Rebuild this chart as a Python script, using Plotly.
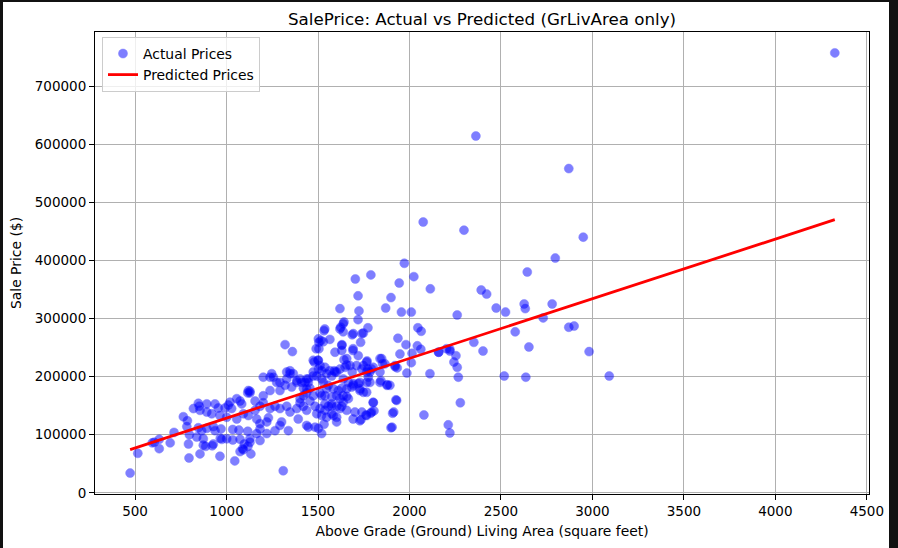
import plotly.graph_objects as go

# ---------------- data ----------------
gr_liv_area = [
    473, 515, 594, 605, 632, 632, 692, 713,
    764, 786, 783, 792, 797, 795, 837, 873, 873, 886, 855, 922, 928, 966, 974, 1001,
    964, 1045, 1074, 1088, 1117, 1128, 1097, 1092, 1133, 1034, 1074, 1116, 1068, 1034,
    970, 937, 928, 892, 864, 846,
    846, 851, 892, 937, 955, 992, 1019, 1074, 1083, 1116, 1128, 819, 855, 892, 919,
    964, 1001, 1056, 1092, 1119, 1165, 1183, 1220, 1156, 1183, 1201, 1238, 1265, 1292,
    1329, 1347, 1384, 1402, 1420, 1438, 1447, 1384, 1356, 1320, 1292, 1256, 1201, 1247,
    1329, 1365, 1402, 1292, 1238, 1201, 1156, 1292, 1301, 1338, 1265, 1220, 1183, 1165,
    1128, 1229, 1183, 1392, 1438, 1010, 1028, 1056, 1119, 1128, 1310,
    1320, 1360, 1347,
    1429, 1447, 1420, 1456, 1438, 1474, 1456, 1484, 1511, 1538, 1556, 1575, 1602, 1620,
    1638, 1666, 1657, 1684, 1720, 1729, 1748, 1766, 1775, 1784, 1740, 1711, 1675, 1648,
    1602, 1575, 1547, 1520, 1493, 1474, 1502, 1529, 1556, 1584, 1611, 1511, 1538, 1575,
    1402, 1420, 1438, 1493, 1520, 1547, 1575, 1602, 1620, 1657,
    1692, 1720, 1748, 1766, 1657, 1630, 1620, 1593, 1638, 1666, 1693, 1729, 1766, 1784,
    1740, 1766, 1702, 1692, 1729, 1802, 1793, 1839, 1638, 1602, 1575, 1538, 1520, 1547,
    1584, 1602, 1447, 1484, 1520, 1630,
    1502, 1490, 1516, 1533, 1565, 1620, 1638, 1630, 1593,
    1238, 1274, 1329, 1347, 1384, 1411, 1438, 1474, 1520, 1565, 1630, 1657, 1693, 1729,
    1766, 1802, 1839, 1866, 1893, 1930, 1905, 1914,
    1638, 1693, 1740, 1474, 1502, 1511,
    2079, 1899, 1926, 1908, 1802, 1806, 1788, 1762, 1735, 1502, 1533,
    1937, 1981, 2043, 2062, 1948, 2014, 1986, 2112, 2159, 2203, 1853, 1922, 1933, 1768,
    1772, 1691, 1631, 1687, 1733, 1748, 1642, 1657, 1687, 1500, 1479, 1505, 1538, 1589,
    1537, 1505, 1529, 1844, 1877,
    2075, 1972, 1704, 1789, 1944, 2024, 2114, 1719, 1899, 1620, 1724, 1870, 1956, 2010,
    1642, 1719, 1624, 1773, 2046, 2064,
    2298, 2950, 2797, 2644, 2392, 2422, 2261, 2474, 2525, 2627, 2633, 2780, 2731, 2871,
    2900, 2578, 2352, 2402, 2221, 2160, 2254, 2243, 2261, 2267, 2653, 2982, 2518, 2636,
    3092, 2278, 2212, 2221, 2221,
    2363, 2871, 4325,
    2010, 1793, 1848, 1839, 1879, 1921,
]

sale_price = [
    34000, 68000, 86000, 87000, 92000, 76000, 86000, 104000,
    131000, 124000, 114000, 84000, 100000, 60000, 96000, 93000, 82000, 80000, 67000, 81000, 84000, 94000, 92000, 93000,
    63000, 55000, 71000, 76000, 80000, 87000, 84000, 74000, 67000, 91000, 92000, 106000, 108000, 109000,
    110000, 107000, 114000, 111000, 107000, 112000,
    154000, 149000, 153000, 153000, 146000, 146000, 156000, 158000, 153000, 172000, 175000, 145000, 142000, 139000, 136000,
    133000, 130000, 127000, 136000, 133000, 127000, 119000, 122000, 142000, 149000, 155000, 145000, 149000, 145000,
    149000, 139000, 145000, 155000, 167000, 179000, 190000, 190000, 182000, 185000, 190000, 199000, 199000, 205000,
    208000, 205000, 196000, 176000, 176000, 167000, 158000, 116000, 122000, 107000, 107000, 102000, 110000, 102000,
    93000, 129000, 90000, 127000, 116000, 151000, 145000, 162000, 176000, 172000, 38000,
    255000, 243000, 210000,
    190000, 196000, 180000, 180000, 172000, 167000, 158000, 149000, 145000, 153000, 149000, 153000, 149000, 162000,
    167000, 162000, 179000, 182000, 188000, 176000, 173000, 190000, 199000, 208000, 213000, 219000, 219000, 216000,
    208000, 201000, 205000, 196000, 201000, 208000, 213000, 190000, 185000, 179000, 176000, 172000, 167000, 165000,
    162000, 149000, 142000, 136000, 133000, 130000, 136000, 130000, 145000, 142000,
    248000, 236000, 219000, 208000, 231000, 245000, 213000, 208000, 196000, 190000, 185000, 179000, 173000, 190000,
    139000, 133000, 139000, 127000, 124000, 156000, 139000, 190000, 156000, 167000, 149000, 142000, 167000, 179000,
    133000, 122000, 113000, 113000, 102000, 149000,
    265000, 248000, 262000, 279000, 264000, 282000, 277000, 254000, 242000,
    199000, 190000, 196000, 205000, 193000, 190000, 196000, 201000, 210000, 210000, 180000, 166000, 188000, 190000,
    225000, 216000, 231000, 222000, 185000, 159000, 113000, 139000,
    291000, 274000, 274000, 228000, 228000, 219000,
    134000, 112000, 160000, 137000, 155000, 141000, 137000, 134000, 126000, 111000, 118000,
    266000, 255000, 253000, 247000, 239000, 240000, 206000, 205000, 242000, 248000, 222000, 217000, 215000, 227000,
    213000, 245000, 255000, 272000, 259000, 275000, 229000, 220000, 208000, 228000, 225000, 248000, 216000, 210000,
    282000, 259000, 260000, 193000, 185000,
    466000, 395000, 368000, 375000, 361000, 372000, 351000, 339000, 336000, 317000, 313000, 318000, 311000, 311000,
    294000, 298000, 285000, 284000, 284000, 278000,
    452000, 440000, 404000, 380000, 349000, 342000, 306000, 318000, 311000, 325000, 317000, 325000, 301000, 285000,
    287000, 277000, 259000, 244000, 244000, 242000, 236000, 225000, 216000, 199000, 251000, 243000, 201000, 199000,
    201000, 155000, 117000, 103000, 247000,
    614000, 558000, 757000,
    224000, 213000, 231000, 208000, 186000, 219000,
]

# simple linear model SalePrice ~ GrLivArea (coefficients)
slope = 102.7
intercept = 25900.0

x_ticks = [500, 1000, 1500, 2000, 2500, 3000, 3500, 4000, 4500]
y_ticks = [0, 100000, 200000, 300000, 400000, 500000, 600000, 700000]

title_text = "SalePrice: Actual vs Predicted (GrLivArea only)"
x_label = "Above Grade (Ground) Living Area (square feet)"
y_label = "Sale Price ($)"

# ---------------- figure ----------------
x_sorted = sorted(gr_liv_area)
predicted = [intercept + slope * v for v in x_sorted]

W, H = 898, 548
L, R, T, B = 95, 29, 32, 54
FONT = "DejaVu Sans"

fig = go.Figure()
fig.add_trace(go.Scatter(
    x=gr_liv_area, y=sale_price, mode="markers", name="Actual Prices",
    marker=dict(color="rgb(0,0,255)", opacity=0.5, size=9,
                line=dict(width=1, color="rgba(0,0,255,0.5)")),
))
fig.add_trace(go.Scatter(
    x=x_sorted, y=predicted, mode="lines", name="Predicted Prices",
    line=dict(color="red", width=2.8),
))

axis_common = dict(
    showgrid=True, gridcolor="#b0b0b0", gridwidth=1,
    showline=True, linecolor="black", linewidth=1, mirror=True,
    ticks="outside", ticklen=5, tickwidth=1, tickcolor="black",
    zeroline=False, tickfont=dict(family=FONT, size=13.5, color="black"),
)

fig.update_xaxes(range=[281, 4512], tickvals=x_ticks, tickformat="d",
                 title=dict(text=x_label, font=dict(family=FONT, size=13.9, color="black"), standoff=8),
                 **axis_common)
fig.update_yaxes(range=[-2000, 793000], tickvals=y_ticks, tickformat="d",
                 title=dict(text=y_label, font=dict(family=FONT, size=13.9, color="black"), standoff=9),
                 **axis_common)

pw, ph = W - L - R, H - T - B
def px_x(p):
    return (p - L) / pw
def px_y(p):
    return (H - B - p) / ph

# dark screenshot frame around the figure
frame = [(0, 0, 3, H), (889, 0, W, H), (0, 0, W, 2)]
shapes = []
for x0, y0, x1, y1 in frame:
    shapes.append(dict(type="rect", xref="paper", yref="paper",
                       x0=px_x(x0), x1=px_x(x1), y0=px_y(y1), y1=px_y(y0),
                       fillcolor="#111111", line=dict(width=0), layer="above"))

fig.update_layout(
    width=W, height=H,
    margin=dict(l=L, r=R, t=T, b=B, pad=0),
    paper_bgcolor="white", plot_bgcolor="white",
    font=dict(family=FONT, size=13.9, color="black"),
    title=dict(text=title_text, x=0.5, xref="paper", xanchor="center",
               y=1 - 19 / H, yref="container", yanchor="middle",
               font=dict(family=FONT, size=16.7, color="black")),
    showlegend=True,
    legend=dict(x=px_x(102), y=px_y(37), xanchor="left", yanchor="top",
                bgcolor="rgba(255,255,255,0.8)", bordercolor="#cccccc", borderwidth=1,
                font=dict(family=FONT, size=13.9, color="black"), itemwidth=30),
    shapes=shapes,
)

fig.write_html("out.html")
